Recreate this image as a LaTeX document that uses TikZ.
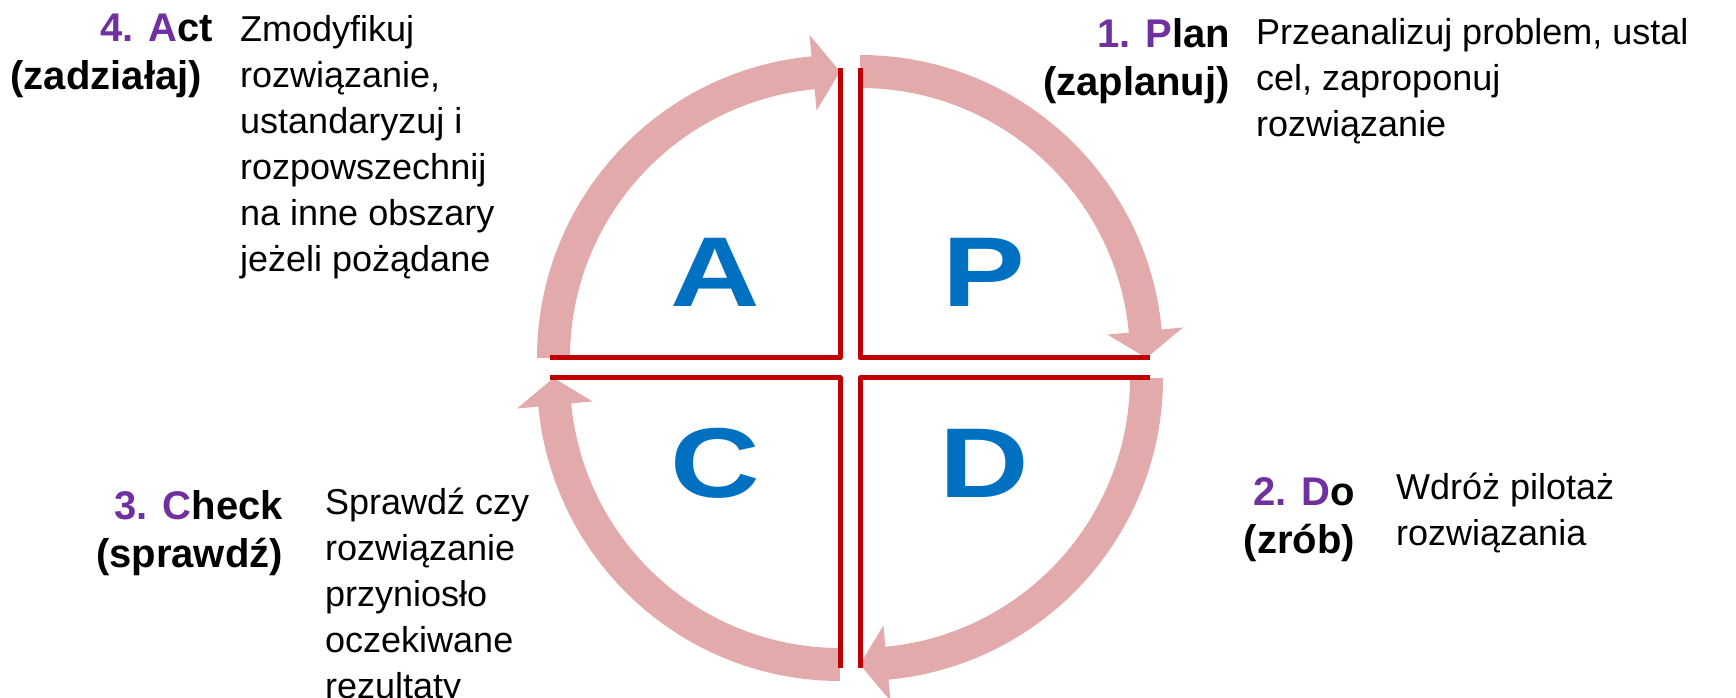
\documentclass[tikz,border=0pt]{standalone}
\usepackage{fontspec}
\setmainfont{Liberation Sans}
\usetikzlibrary{calc}
\definecolor{arrowpink}{HTML}{E2AAAA}
\definecolor{quadred}{HTML}{C00000}
\definecolor{letterblue}{HTML}{0070C0}
\definecolor{labelpurple}{HTML}{7030A0}
\begin{document}
\begin{tikzpicture}[x=1pt,y=1pt,
  band/.style={draw=arrowpink, line width=33pt, line cap=butt},
  head/.style={fill=arrowpink},
  quad/.style={draw=quadred, line width=5pt, line join=round, line cap=butt},
  big/.style={text=letterblue, font=\fontsize{124}{124}\selectfont\bfseries, inner sep=0pt, anchor=base, yscale=0.8},
  lbl/.style={font=\fontsize{40}{48}\selectfont\bfseries, align=right, anchor=base east, inner sep=0pt},
  desc/.style={font=\fontsize{36}{46}\selectfont, align=left, anchor=base west, inner sep=0pt}]
\useasboundingbox (0,0) rectangle (1736,698);
\coordinate (cTL) at (840,340);
\coordinate (cTR) at (860,340);
\coordinate (cBL) at (840,320);
\coordinate (cBR) at (860,320);
% circular arrows
\foreach \c/\s/\e in {cTR/90/0, cTL/180/90, cBL/270/180, cBR/360/270} {
  \pgfmathsetmacro\b{\e+5.4}
  \pgfmathsetmacro\bb{\b-0.3}
  \draw[band] ($(\c)+(\s:286.5)$) arc[start angle=\s, end angle=\bb, radius=286.5];
  \fill[head] ($(\c)+(\b:248.5)$) -- ($(\c)+(\e:286.5)$) -- ($(\c)+(\b:324.5)$) -- cycle;
}
% quadrants
\draw[quad] (840,630) -- (840,340) -- (550,340);
\draw[quad] (860,630) -- (860,340) -- (1150,340);
\draw[quad] (550,320) -- (840,320) -- (840,30);
\draw[quad] (1150,320) -- (860,320) -- (860,30);
% big letters
\node[big] (A) at (715,391) {A};
\node[big] (P) at (984,391) {P};
\node[big] (C) at (715,200) {C};
\node[big] (D) at (984,200) {D};
% labels (base anchor = last line baseline)
\node[lbl] (actlbl) at (213,608.3) {\textcolor{labelpurple}{4. A}ct\\(zadziałaj)\hspace*{11pt}};
\node[desc] (actdesc) at (240,426.3) {Zmodyfikuj\\rozwiązanie,\\ustandaryzuj i\\rozpowszechnij\\na inne obszary\\jeżeli pożądane};
\node[lbl] (planlbl) at (1230,602) {\textcolor{labelpurple}{1. P}lan\\(zaplanuj)};
\node[desc] (plandesc) at (1256,561) {Przeanalizuj problem, ustal\\cel, zaproponuj\\rozwiązanie};
\node[lbl] (dolbl) at (1355,144) {\textcolor{labelpurple}{2. D}o\\(zrób)};
\node[desc] (dodesc) at (1396,152) {Wdróż pilotaż\\rozwiązania};
\node[lbl] (checklbl) at (283,130) {\textcolor{labelpurple}{3. C}heck\\(sprawdź)};
\node[desc] (checkdesc) at (325,-1) {Sprawdź czy\\rozwiązanie\\przyniosło\\oczekiwane\\rezultaty};
\end{tikzpicture}
\end{document}
